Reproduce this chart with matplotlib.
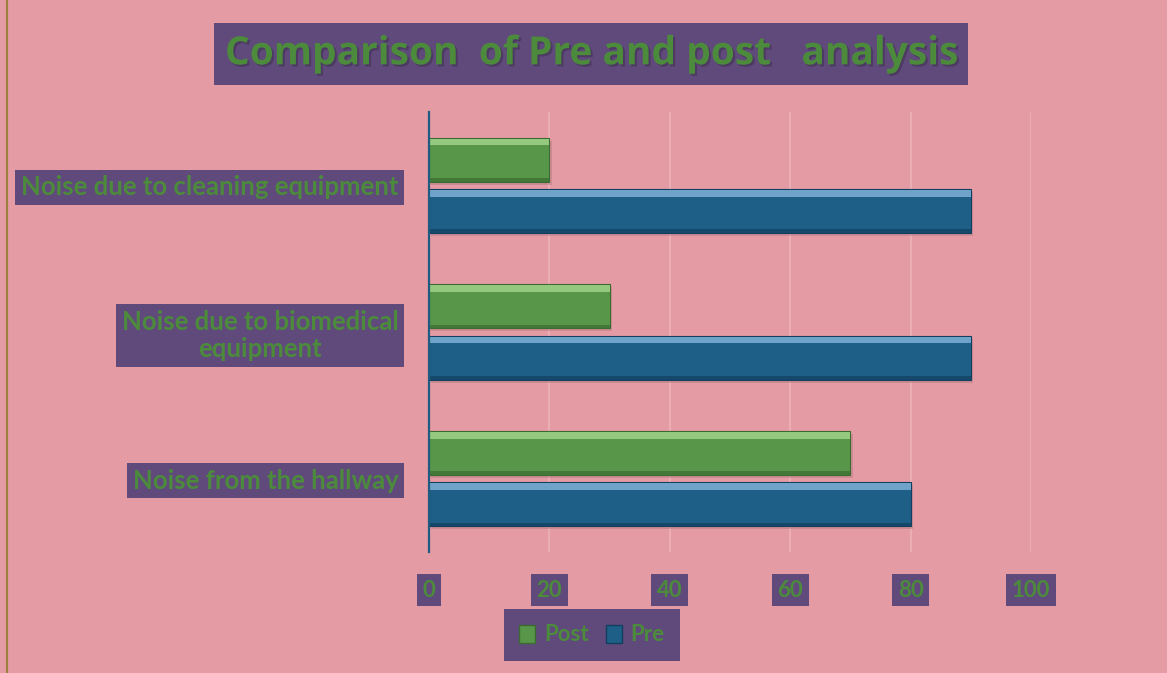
import matplotlib.pyplot as plt
import matplotlib.patheffects as pe
from matplotlib.patches import Patch
import numpy as np

# data (bottom to top as drawn)
categories = ['Noise from the hallway', 'Noise due to biomedical\nequipment',
              'Noise due to cleaning equipment']
post = [70, 30, 20]
pre = [80, 90, 90]
xticks = [0, 20, 40, 60, 80, 100]

pink = '#E59BA3'
purple = '#604A7B'
txtgreen = '#4B8B3B'
green = '#58974A'
green_hi = '#A9DA92'
green_lo = '#3B6B30'
blue = '#1E5F88'
blue_hi = '#8DBBE0'
blue_lo = '#123F5E'

plt.rcParams['font.family'] = ['Lato', 'DejaVu Sans']
plt.rcParams['font.weight'] = 'bold'

fig = plt.figure(figsize=(11.67, 6.73), dpi=100, facecolor=pink)
ax = fig.add_axes([0.3676, 0.1798, 0.5159, 0.6538])
ax.set_facecolor(pink)

y = np.arange(len(categories))
off = 0.175
h = 0.30


def bevel_bar(yc, vals, face, hi, lo):
    # soft shadow
    ax.barh(yc - 0.02, vals, height=h, left=0.4, color='#b57a82', alpha=0.5, zorder=1)
    ax.barh(yc, vals, height=h, color=face, edgecolor=lo, linewidth=0.8, zorder=2)
    ax.barh(yc + h / 2 - 0.03, vals, height=0.045, color=hi, alpha=0.75, zorder=3)
    ax.barh(yc - h / 2 + 0.012, vals, height=0.024, color=lo, alpha=0.7, zorder=3)


bevel_bar(y + off, post, green, green_hi, green_lo)
bevel_bar(y - off, pre, blue, blue_hi, blue_lo)

ax.set_xlim(0, 100)
ax.set_ylim(-0.5, 2.5)
ax.set_xticks(xticks)
ax.xaxis.grid(True, color='#EDB3B9', linewidth=1.2)
ax.set_axisbelow(True)
for s in ['top', 'right', 'bottom']:
    ax.spines[s].set_visible(False)
ax.spines['left'].set_color('#1F5A80')
ax.spines['left'].set_linewidth(1.6)
ax.spines['left'].set_zorder(5)

ax.set_yticks(y)
ax.set_yticklabels(categories, fontsize=18.5, color=txtgreen, fontweight='bold',
                   multialignment='center', linespacing=1.15)
ax.tick_params(axis='y', length=0, pad=22)
ax.tick_params(axis='x', length=0, pad=20, labelsize=16, labelcolor=txtgreen)
for lab in ax.get_yticklabels():
    lab.set_bbox(dict(facecolor=purple, edgecolor='none', pad=4))
    lab.set_fontweight('bold')
for lab in ax.get_xticklabels():
    lab.set_bbox(dict(facecolor=purple, edgecolor='none', pad=4))
    lab.set_fontweight('bold')

fig.text(0.5064, 0.92, 'Comparison  of Pre and post   analysis', ha='center', va='center',
         fontsize=28, color=txtgreen, fontweight='bold', family=['Open Sans', 'DejaVu Sans'],
         bbox=dict(facecolor=purple, edgecolor='none', pad=8),
         path_effects=[pe.withSimplePatchShadow(offset=(1.5, -1.5), shadow_rgbFace='#3a2c4a', alpha=0.5)])

handles = [Patch(facecolor=green, edgecolor=green_lo, label='Post'),
           Patch(facecolor=blue, edgecolor=blue_lo, label='Pre')]
leg = fig.legend(handles=handles, loc='center', bbox_to_anchor=(0.5073, 0.0565), ncol=2,
                 frameon=True, fontsize=16, handlelength=0.7, handleheight=0.9,
                 handletextpad=0.4, columnspacing=0.8, borderpad=0.7)
leg.get_frame().set_facecolor(purple)
leg.get_frame().set_edgecolor('none')
leg.get_frame().set_alpha(1)
leg.get_frame().set_boxstyle('square', pad=0)
for t in leg.get_texts():
    t.set_color(txtgreen)
    t.set_fontweight('bold')

# border of the chart area
fig.add_artist(plt.Line2D([0.006, 0.006], [0, 1], color='#9C8040', linewidth=1.5))

fig.savefig('out.png', dpi=100, facecolor=pink)
